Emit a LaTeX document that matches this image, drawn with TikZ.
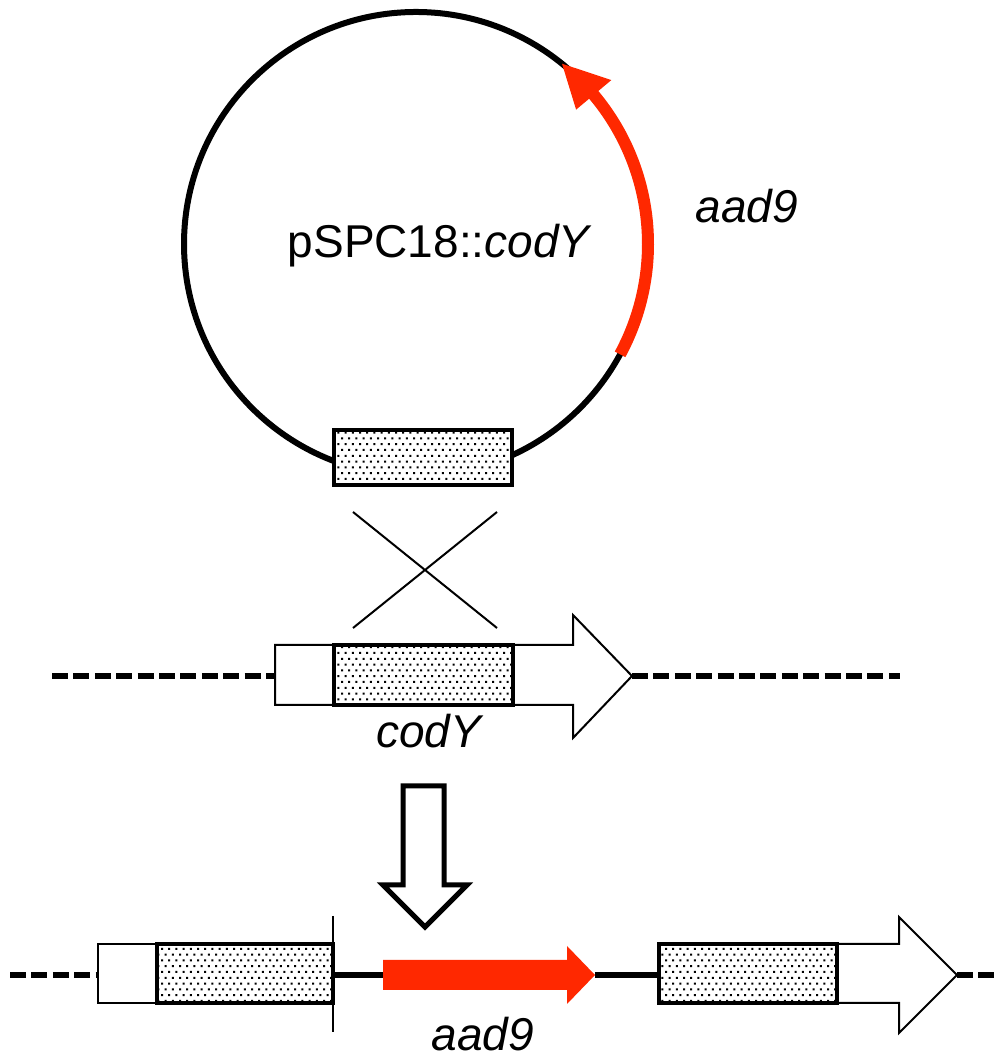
\documentclass[tikz,border=0pt]{standalone}
\usepackage{fontspec}
\setmainfont{Liberation Sans}
\usetikzlibrary{patterns}
\definecolor{aadred}{RGB}{255,40,0}
\pgfdeclarepatternformonly{homology dots}{\pgfqpoint{-1pt}{-1pt}}{\pgfqpoint{4pt}{6pt}}{\pgfqpoint{3.6pt}{5.8pt}}{
  \pgfpathrectangle{\pgfqpoint{-0.5pt}{-0.5pt}}{\pgfqpoint{1pt}{1pt}}
  \pgfpathrectangle{\pgfqpoint{1.3pt}{2.4pt}}{\pgfqpoint{1pt}{1pt}}
  \pgfusepath{fill}
}

\begin{document}
\begin{tikzpicture}[x=0.5pt,y=0.5pt,
                    homol/.style={preaction={fill=white},pattern=homology dots,draw,line width=1.6pt},
                    orfbox/.style={draw,fill=white,line width=1pt,line join=miter},
                    chromo/.style={line width=3pt,dash pattern=on 8pt off 2.7pt},
                    lbl/.style={font=\fontsize{23}{27}\selectfont,anchor=base,inner sep=0pt}]
                    \useasboundingbox (0,0) rectangle (1000,1059);
                    % plasmid
                    \coordinate (ori) at (416,815);
                    \draw[line width=3pt] (ori) circle[radius=232];
                    \draw[aadred,line width=6pt] (ori) ++(-28.4:232) arc[start angle=-28.4,end angle=41,radius=232];
                    \fill[aadred] ([shift={(40:209)}]ori) -- ([shift={(51:232)}]ori) -- ([shift={(40:255)}]ori) -- cycle;
                    \draw[homol] (334,574) rectangle (512,629);
                    \node[lbl] (plasmid) at (440,801) {pSPC18::\textit{codY}};
                    \node[lbl] (aadtop) at (747,836) {\textit{aad9}};
                    % crossover
                    \draw[line width=1pt] (353,547) -- (497,431) (497,547) -- (353,431);
                    % chromosomal codY
                    \draw[chromo] (52,383) -- (275,383) (632,383) -- (900,383);
                    \draw[orfbox] (275,354) -- (573,354) -- (573,321) -- (632,383) -- (573,444) -- (573,414) -- (275,414) -- cycle;
                    \draw[homol] (334,354) rectangle (513,414);
                    \node[lbl] (cody) at (430,311) {\textit{codY}};
                    % integration
                    \draw[line width=2.5pt,fill=white,line join=miter] (403,273) -- (444,273) -- (444,174) -- (467,174) -- (425,132) -- (383,174) -- (403,174) -- cycle;
                    \draw[chromo] (10,84) -- (98,84) (957,84) -- (1000,84);
                    \draw[line width=3pt] (333,84) -- (383,84) (595,84) -- (659,84);
                    \draw[orfbox] (98,56) rectangle (157,115);
                    \draw[homol] (157,56) rectangle (333,115);
                    \draw[line width=1pt] (333,143) -- (333,27);
                    \fill[aadred] (383,69) -- (567,69) -- (567,55) -- (595,84) -- (567,113) -- (567,99) -- (383,99) -- cycle;
                    \draw[orfbox] (659,56) -- (899,56) -- (899,26) -- (957,84) -- (899,142) -- (899,115) -- (659,115) -- cycle;
                    \draw[homol] (659,56) rectangle (837,115);
                    \node[lbl] (aadbot) at (483,9) {\textit{aad9}};
                   \end{tikzpicture}
\end{document}
